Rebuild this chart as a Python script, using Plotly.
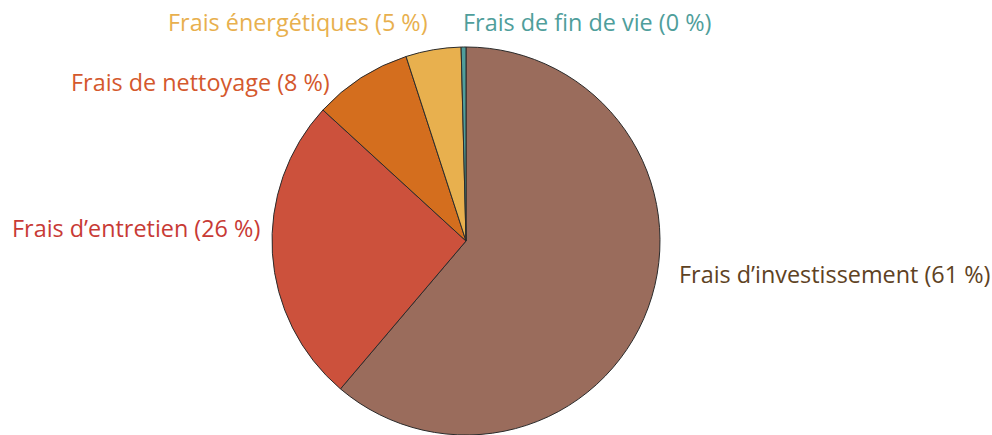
import plotly.graph_objects as go

# Cost breakdown shares (%)
categories = [
    "Frais d’investissement",
    "Frais d’entretien",
    "Frais de nettoyage",
    "Frais énergétiques",
    "Frais de fin de vie",
]
values = [61.2, 25.6, 8.2, 4.6, 0.4]
slice_colors = ["#9A6C5C", "#CC513C", "#D46E1E", "#E8B04E", "#4F9E9B"]
label_colors = ["#5E4223", "#C83A35", "#D4582D", "#E8B04E", "#4F9E9B"]

W, H = 992, 435
total = sum(values)
texts = [f"{c} ({round(v / total * 100)} %)" for c, v in zip(categories, values)]

fig = go.Figure(
    go.Pie(
        labels=categories,
        values=values,
        sort=False,
        direction="clockwise",
        rotation=0,
        marker=dict(colors=slice_colors, line=dict(color="#2b2b2b", width=1)),
        textinfo="none",
        hoverinfo="label+percent",
        showlegend=False,
        domain=dict(x=[272 / W, 660 / W], y=[0 / H, 388 / H]),
    )
)

# Label placement (pixel positions in the page) for each slice
label_pos = [
    (677, 274, "left"),
    (262, 228, "right"),
    (332, 82, "right"),
    (430, 22, "right"),
    (461, 22, "left"),
]
for t, col, (px, py, anc) in zip(texts, label_colors, label_pos):
    fig.add_annotation(
        x=px / W, y=1 - py / H, xref="paper", yref="paper",
        text=t, showarrow=False, xanchor=anc, yanchor="middle",
        font=dict(family="Open Sans", size=23.4, color=col),
    )

fig.update_layout(
    width=W, height=H,
    margin=dict(l=0, r=0, t=0, b=0),
    paper_bgcolor="white", plot_bgcolor="white",
)

fig.write_html("out.html")
